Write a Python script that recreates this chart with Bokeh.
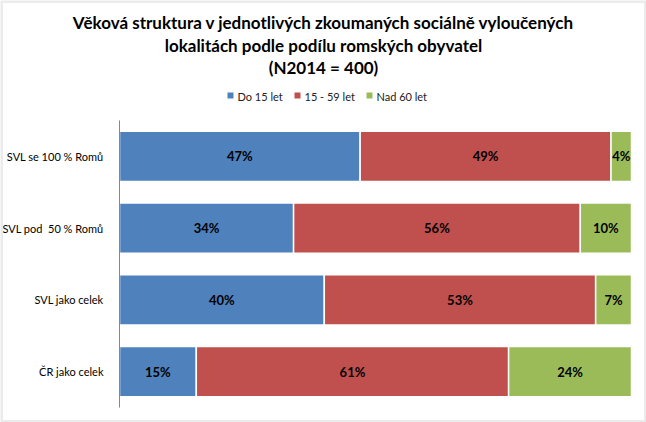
from bokeh.plotting import figure
from bokeh.models import ColumnDataSource, Range1d, LinearAxis, FixedTicker, BoxAnnotation
from bokeh.core.properties import value
from bokeh.embed import file_html
from bokeh.resources import INLINE

categories = ["SVL se 100 % Romů", "SVL pod \u00a050 % Romů", "SVL jako celek", "ČR jako celek"]
do15 = [47, 34, 40, 15]
mid = [49, 56, 53, 61]
nad60 = [4, 10, 7, 24]
series_names = ["Do 15 let", "15 - 59 let", "Nad 60 let"]
colors = ["#4F81BD", "#C0504D", "#9BBB59"]
title_lines = ["Věková struktura v jednotlivých zkoumaných sociálně vyloučených",
               "lokalitách podle podílu romských obyvatel",
               "(N2014 = 400)"]

FONT = "Lato"
W, H = 646, 422
# plot-area placement inside the canvas (pixels)
PL, PR, PT, PB = 119, 631, 120, 407

n = len(categories)
px_x = (PR - PL) / 100.0          # pixels per percent
px_y = (PB - PT) / n              # pixels per category
x_start = -PL / px_x
x_end = 100 + (W - PR) / px_x
y_start = -(H - PB) / px_y
y_end = n + PT / px_y


def cx(x_px):  # canvas pixel -> x data
    return x_start + x_px / px_x


def cy(y_px):  # canvas pixel (from top) -> y data
    return y_end - y_px / px_y


ypos = [n - 1 - i + 0.5 for i in range(n)]
src = ColumnDataSource(dict(y=ypos, a=do15, b=mid, c=nad60))

p = figure(width=W, height=H, x_range=Range1d(x_start, x_end), y_range=Range1d(y_start, y_end),
           output_backend="svg", toolbar_location=None,
           x_axis_location=None, y_axis_location=None,
           min_border_left=0, min_border_right=0, min_border_top=0, min_border_bottom=0)
p.border_fill_color = "white"
p.grid.visible = False
p.outline_line_color = None

p.hbar_stack(["a", "b", "c"], y="y", height=0.7, color=colors, source=src,
             line_color="white", line_width=1.5)

lx, ly, lt = [], [], []
for i in range(n):
    start = 0
    for v in (do15[i], mid[i], nad60[i]):
        lx.append(start + v / 2)
        ly.append(ypos[i])
        lt.append(f"{v}%")
        start += v
p.text(x=lx, y=ly, text=lt, text_align="center", text_baseline="middle",
       text_font=value(FONT), text_font_style="bold", text_font_size="13px", text_color="black")

# category axis fixed at x = 0
ax = LinearAxis(fixed_location=0, bounds=(0, n),
                ticker=FixedTicker(ticks=ypos),
                major_label_overrides={y: c for y, c in zip(ypos, categories)})
ax.major_tick_line_color = None
ax.minor_tick_line_color = None
ax.axis_line_color = "#868686"
ax.major_label_text_font = FONT
ax.major_label_text_font_size = "11px"
ax.major_label_text_color = "black"
ax.major_label_standoff = 10
p.add_layout(ax, "left")

# title
p.text(x=[cx(W / 2)] * 3, y=[cy(22), cy(44.5), cy(67)], text=title_lines,
       text_align="center", text_baseline="middle",
       text_font=value(FONT), text_font_style="bold", text_font_size="17px", text_color="black")

# legend
leg_square_x = [230, 297, 369]
leg_text_x = [237, 304, 376]
p.scatter(x=[cx(v) for v in leg_square_x], y=[cy(95)] * 3, marker="square", size=6,
          color=colors, line_color=None)
p.text(x=[cx(v) for v in leg_text_x], y=[cy(96)] * 3, text=series_names,
       text_align="left", text_baseline="middle",
       text_font=value(FONT), text_font_size="11px", text_color="#222222")

# chart border
p.add_layout(BoxAnnotation(fill_alpha=0, line_color="#bcbcbc", line_width=5))

open("out.html", "w").write(file_html(p, INLINE))
